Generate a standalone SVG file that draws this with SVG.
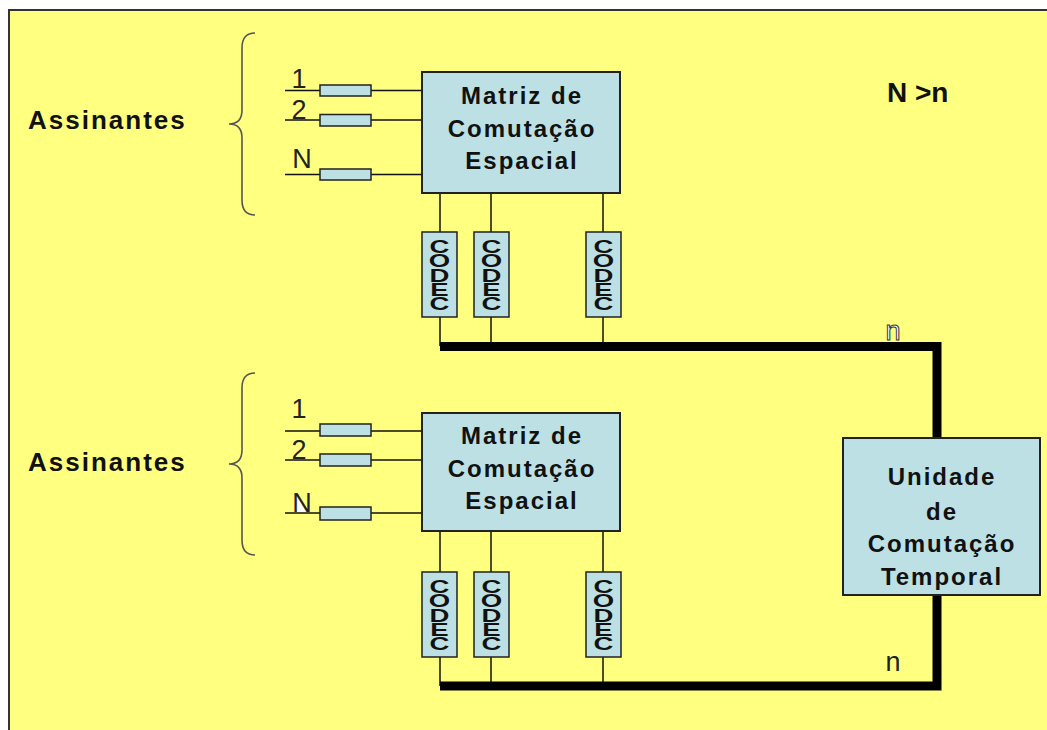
<svg xmlns="http://www.w3.org/2000/svg" width="1047" height="730" viewBox="0 0 1047 730">
<style>
.bg{fill:#ffff80;stroke:#333;stroke-width:2}
.box{fill:#bce0e3;stroke:#222;stroke-width:2}
.res{fill:#bce0e3;stroke:#222;stroke-width:1.5}
.w{stroke:#111;stroke-width:1.5;fill:none}
.bus{stroke:#000;stroke-width:9;fill:none;stroke-linejoin:miter;stroke-linecap:butt}
.brace{stroke:#555;stroke-width:1.6;fill:none}
.b{font-family:"Liberation Sans",Arial,sans-serif;font-weight:bold;fill:#111;letter-spacing:2px}
.big{font-size:26px;text-anchor:start}
.m{font-size:24px;text-anchor:middle}
.t{font-family:"Liberation Sans",Arial,sans-serif;font-size:27px;fill:#222;text-anchor:middle;font-weight:normal}
.cd{font-family:"Liberation Sans",Arial,sans-serif;font-weight:bold;font-size:19px;fill:#111;text-anchor:middle}
</style>
<defs>
<g id="codec">
<rect class="res" x="0" y="0" width="35" height="85"/>
<text class="cd" transform="translate(17.5,21) scale(1.45,1)"><tspan x="0" y="0">C</tspan><tspan x="0" y="14.3">O</tspan><tspan x="0" y="28.6">D</tspan><tspan x="0" y="42.9">E</tspan><tspan x="0" y="57.2">C</tspan></text>
</g>
</defs>
<rect x="0" y="0" width="1047" height="730" fill="#ffffff"/>
<rect class="bg" x="9" y="10" width="1050" height="740"/>

<g id="connectors">
<line class="w" x1="285" y1="90.5" x2="422" y2="90.5"/>
<line class="w" x1="285" y1="120" x2="422" y2="120"/>
<line class="w" x1="285" y1="174.5" x2="422" y2="174.5"/>
<line class="w" x1="440" y1="193" x2="440" y2="346"/>
<line class="w" x1="491" y1="193" x2="491" y2="346"/>
<line class="w" x1="603" y1="193" x2="603" y2="346"/>
<line class="w" x1="285" y1="431" x2="422" y2="431"/>
<line class="w" x1="285" y1="460" x2="422" y2="460"/>
<line class="w" x1="285" y1="513" x2="422" y2="513"/>
<line class="w" x1="440" y1="531" x2="440" y2="686"/>
<line class="w" x1="491" y1="531" x2="491" y2="686"/>
<line class="w" x1="603" y1="531" x2="603" y2="686"/>
<polyline class="bus" points="440,346.5 937,346.5 937,686 440,686"/>
</g>

<g id="assinantes-top">
<text class="b big" x="28" y="129">Assinantes</text>
<path class="brace" d="M255,33 Q242,33 242,48 L242,110 Q242,124 229,124 Q242,124 242,138 L242,200 Q242,215 255,215"/>
<rect class="res" x="320" y="85" width="51" height="11"/>
<rect class="res" x="320" y="114.5" width="51" height="11.5"/>
<rect class="res" x="320" y="169" width="51" height="11"/>
<text class="t" x="299" y="88">1</text>
<text class="t" x="299" y="119">2</text>
<text class="t" x="302" y="168">N</text>
</g>

<g id="matriz-top">
<rect class="box" x="422" y="72" width="198" height="121"/>
<text class="b m" x="522" y="104">Matriz de</text>
<text class="b m" x="522" y="137">Comutação</text>
<text class="b m" x="522" y="169">Espacial</text>
</g>

<g id="codecs-top">
<use href="#codec" x="422" y="232"/>
<use href="#codec" x="474" y="232"/>
<use href="#codec" x="586" y="232"/>
</g>

<g id="assinantes-bottom">
<text class="b big" x="28" y="471">Assinantes</text>
<path class="brace" d="M255,373 Q242,373 242,388 L242,450 Q242,464 229,464 Q242,464 242,478 L242,540 Q242,555 255,555"/>
<rect class="res" x="320" y="424" width="51" height="12"/>
<rect class="res" x="320" y="454" width="51" height="12"/>
<rect class="res" x="320" y="507" width="51" height="13"/>
<text class="t" x="299" y="418">1</text>
<text class="t" x="299" y="459">2</text>
<polygon points="296,494 296,512 306,512" fill="#ffffff"/>
<text class="t" x="302" y="512">N</text>
</g>

<g id="matriz-bottom">
<rect class="box" x="422" y="413" width="198" height="118"/>
<text class="b m" x="522" y="444">Matriz de</text>
<text class="b m" x="522" y="477">Comutação</text>
<text class="b m" x="522" y="509">Espacial</text>
</g>

<g id="codecs-bottom">
<use href="#codec" x="422" y="572"/>
<use href="#codec" x="474" y="572"/>
<use href="#codec" x="586" y="572"/>
</g>

<g id="unidade">
<rect class="box" x="843" y="438" width="197" height="157"/>
<text class="b m" x="942" y="485">Unidade</text>
<text class="b m" x="942" y="520">de</text>
<text class="b m" x="942" y="552">Comutação</text>
<text class="b m" x="942" y="585">Temporal</text>
</g>

<g id="labels">
<text class="b" x="887" y="102" style="font-size:28px;letter-spacing:0">N &gt;n</text>
<text class="t" x="893" y="340" style="fill:#ffffff;stroke:#333;stroke-width:1">n</text>
<text class="t" x="893" y="671">n</text>
</g>
</svg>
